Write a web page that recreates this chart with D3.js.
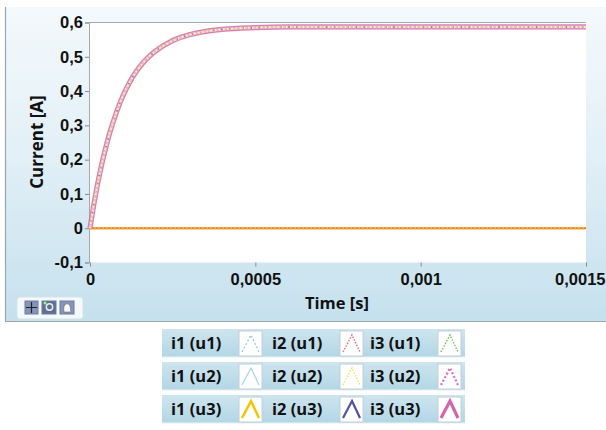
<!DOCTYPE html>
<html><head><meta charset="utf-8">
<script src="https://cdn.jsdelivr.net/npm/d3@7"></script>
<style>
html,body{margin:0;padding:0;background:#fff;}
svg{display:block;font-family:"Open Sans","Noto Sans",sans-serif;}
</style></head>
<body>
<svg id="chart" width="606" height="430"></svg>
<script>
// ---- data ----
const timeValues = [0, 0.00001, 0.00002, 0.00003, 0.00004, 0.00005, 0.00006, 0.00008, 0.0001, 0.00012, 0.00014, 0.00016, 0.00018, 0.0002, 0.00025, 0.0003, 0.00035, 0.0004, 0.0005, 0.0006, 0.0007, 0.0008, 0.001, 0.0012, 0.0015];
const risingCurrent = [0, 0.06, 0.114, 0.162, 0.205, 0.244, 0.279, 0.338, 0.387, 0.426, 0.457, 0.482, 0.502, 0.518, 0.547, 0.564, 0.574, 0.58, 0.585, 0.587, 0.587, 0.587, 0.587, 0.587, 0.587];
const zeroCurrent = [0, 0, 0, 0, 0, 0, 0, 0, 0, 0, 0, 0, 0, 0, 0, 0, 0, 0, 0, 0, 0, 0, 0, 0, 0];
const seriesNames = ["i1 (u1)", "i2 (u1)", "i3 (u1)", "i1 (u2)", "i2 (u2)", "i3 (u2)", "i1 (u3)", "i2 (u3)", "i3 (u3)"];
const xTickValues = [0, 0.0005, 0.001, 0.0015];
const xTickLabels = ["0", "0,0005", "0,001", "0,0015"];
const yTickValues = [-0.1, 0, 0.1, 0.2, 0.3, 0.4, 0.5, 0.6];
const yTickLabels = ["-0,1", "0", "0,1", "0,2", "0,3", "0,4", "0,5", "0,6"];
const xTitle = "Time [s]";
const yTitle = "Current [A]";

// style per series (legend order)
const styles = [
  {color:"#8cc6de", width:1.2, dash:"2,2", data:"zero"},
  {color:"#ee6f82", width:1.5, dash:"1.5,1.5", data:"zero"},
  {color:"#7dbd5a", width:1.5, dash:"1.5,1.5", data:"zero"},
  {color:"#9fd6e8", width:1.0, dash:null, data:"zero"},
  {color:"#f1e36a", width:1.5, dash:"1.5,1.5", data:"rise"},
  {color:"#de6cc0", width:2.2, dash:"2,2", data:"rise"},
  {color:"#f5c400", width:2.5, dash:null, data:"zero"},
  {color:"#54529e", width:2.2, dash:null, data:"rise"},
  {color:"#d366a8", width:3.2, dash:null, data:"rise"}
];
const FS = 16.5;

const svg = d3.select("#chart");
const defs = svg.append("defs");
const grad = defs.append("linearGradient").attr("id","panelGrad").attr("x1",0).attr("y1",0).attr("x2",0).attr("y2",1);
grad.append("stop").attr("offset","0%").attr("stop-color","#f4f9fc");
grad.append("stop").attr("offset","45%").attr("stop-color","#e3f0f7");
grad.append("stop").attr("offset","100%").attr("stop-color","#c5e1ed");
const rowGrad = defs.append("linearGradient").attr("id","rowGrad").attr("x1",0).attr("y1",0).attr("x2",0).attr("y2",1);
rowGrad.append("stop").attr("offset","0%").attr("stop-color","#cde5ef");
rowGrad.append("stop").attr("offset","100%").attr("stop-color","#b3d6e5");

// panel
svg.append("rect").attr("x",5).attr("y",7).attr("width",601).attr("height",314).attr("fill","url(#panelGrad)");
svg.append("line").attr("x1",5.5).attr("x2",5.5).attr("y1",7).attr("y2",321.5).attr("stroke","#9aa6ad").attr("stroke-width",1.2);
svg.append("line").attr("x1",5).attr("x2",606).attr("y1",321.5).attr("y2",321.5).attr("stroke","#9aa6ad").attr("stroke-width",1.2);

const x = d3.scaleLinear().domain([0,0.0015]).range([90,586]);
const y = d3.scaleLinear().domain([-0.1,0.6]).range([262.5,22.5]);

// plot area
svg.append("rect").attr("x",x(0)-1).attr("y",y(0.6)).attr("width",x(0.0015)-x(0)+1).attr("height",y(-0.1)-y(0.6)).attr("fill","#fff");
svg.append("line").attr("x1",x(0)-1).attr("x2",x(0.0015)).attr("y1",y(0.6)).attr("y2",y(0.6)).attr("stroke","#a9a9a9").attr("stroke-width",1);

// axes
const yAxis = d3.axisLeft(y).tickValues(yTickValues).tickFormat((d,i)=>yTickLabels[i]).tickSize(4).tickPadding(2);
const gy = svg.append("g").attr("transform",`translate(${x(0)-1},0)`).call(yAxis);
gy.select(".domain").attr("stroke","#a9a9a9");
gy.selectAll(".tick line").attr("stroke","#8a8a8a");
gy.selectAll("text").attr("font-size",FS).attr("font-weight",700).attr("fill","#111");

const xAxis = d3.axisBottom(x).tickValues(xTickValues).tickFormat((d,i)=>xTickLabels[i]).tickSize(4).tickPadding(7);
const gx = svg.append("g").attr("transform",`translate(0,${y(-0.1)})`).call(xAxis);
gx.select(".domain").remove();
gx.selectAll(".tick line").attr("stroke","#8a8a8a");
gx.selectAll("text").attr("font-size",FS).attr("font-weight",700).attr("fill","#111");
gx.selectAll(".tick").filter(d=>d===0.0015).select("text").attr("text-anchor","end").attr("x",19);

svg.append("text").attr("x",337).attr("y",309).attr("text-anchor","middle").attr("font-size",FS).attr("font-weight",700).attr("fill","#111").text(xTitle);
svg.append("text").attr("transform","translate(43,142) rotate(-90)").attr("text-anchor","middle").attr("font-size",FS+0.5).attr("font-weight",700).attr("fill","#111").text(yTitle);

// lines
const line = d3.line().x((d,i)=>x(timeValues[i])).y(d=>y(d)).curve(d3.curveMonotoneX);
const plot = svg.append("g");
// zero lines
[0,3,2,6].forEach(k=>{
  const s = styles[k];
  plot.append("path").datum(zeroCurrent).attr("d",line).attr("fill","none")
    .attr("stroke",s.color).attr("stroke-width",s.width).attr("stroke-dasharray",s.dash);
});
plot.append("path").datum(zeroCurrent).attr("d",line).attr("fill","none")
  .attr("stroke","#f0b030").attr("stroke-width",2.6).attr("stroke-dasharray","2,2");
plot.append("path").datum(zeroCurrent).attr("d",line).attr("fill","none")
  .attr("stroke",styles[1].color).attr("stroke-width",1.6).attr("stroke-dasharray","2,2").attr("stroke-dashoffset",2);

// rising lines: pink band, purple under, light dots inside
plot.append("path").datum(risingCurrent).attr("d",line).attr("fill","none")
  .attr("stroke",styles[8].color).attr("stroke-width",5.2).attr("stroke-opacity",0.85);
plot.append("path").datum(risingCurrent).attr("d",line).attr("fill","none")
  .attr("stroke","#e7b6d6").attr("stroke-width",2.8);
plot.append("path").datum(risingCurrent).attr("d",line).attr("fill","none")
  .attr("stroke",styles[7].color).attr("stroke-width",1.4).attr("stroke-dasharray","1.5,6").attr("stroke-opacity",0.7);
plot.append("path").datum(risingCurrent).attr("d",line).attr("fill","none")
  .attr("stroke",styles[4].color).attr("stroke-width",2).attr("stroke-dasharray","2,2.2");
plot.append("path").datum(risingCurrent).attr("d",line).attr("fill","none")
  .attr("stroke","#fbf6dc").attr("stroke-width",1.4).attr("stroke-dasharray","1.2,3");

// toolbar
const tb = svg.append("g");
tb.append("rect").attr("x",17).attr("y",297).attr("width",66).attr("height",22).attr("rx",3).attr("fill","#f4f9fc").attr("stroke","#d3e3ea");
[[25,13],[42,14],[60,14]].forEach(([bx,bw],i)=>{
  tb.append("rect").attr("x",bx).attr("y",301).attr("width",bw).attr("height",13).attr("fill", i===1?"#5e6f93":"#8594b8").attr("stroke","#6c7aa0");
});
tb.append("path").attr("d","M31.5,302 V313 M26,307.5 H37").attr("stroke","#222").attr("stroke-width",1.2);
tb.append("circle").attr("cx",49.5).attr("cy",307).attr("r",3.2).attr("fill","none").attr("stroke","#eee").attr("stroke-width",1.4);
tb.append("circle").attr("cx",45).attr("cy",303).attr("r",1.5).attr("fill","#8f8");
tb.append("path").attr("d","M64,312 Q63,305 66,304 Q69,303 70,306 L71,312 Z").attr("fill","#fff").attr("stroke","#666").attr("stroke-width",0.6);

// legend
const rowsY = [329, 362, 395];
const colX = [162, 263, 361];
const legend = svg.append("g");
rowsY.forEach(ry=>{
  legend.append("rect").attr("x",162).attr("y",ry).attr("width",303).attr("height",28).attr("fill","url(#rowGrad)");
  legend.append("line").attr("x1",162).attr("x2",465).attr("y1",ry+28).attr("y2",ry+28).attr("stroke","#e6f0f4");
});
seriesNames.forEach((name,i)=>{
  const r = Math.floor(i/3), c = i%3;
  const ry = rowsY[r], cx = colX[c];
  legend.append("text").attr("x",cx+9).attr("y",ry+20).attr("font-size",FS).attr("font-weight",700).attr("fill","#111").text(name);
  const sx = cx+77, sy = ry+2;
  legend.append("rect").attr("x",sx).attr("y",sy).attr("width",23).attr("height",25).attr("fill","#fff").attr("stroke","#c4ced3");
  const s = styles[i];
  legend.append("path").attr("d",`M${sx+3},${sy+21} L${sx+12},${sy+4} L${sx+20},${sy+21}`)
    .attr("fill","none").attr("stroke",s.color).attr("stroke-width",Math.max(1.2,s.width))
    .attr("stroke-dasharray",s.dash);
});
</script>
</body></html>
